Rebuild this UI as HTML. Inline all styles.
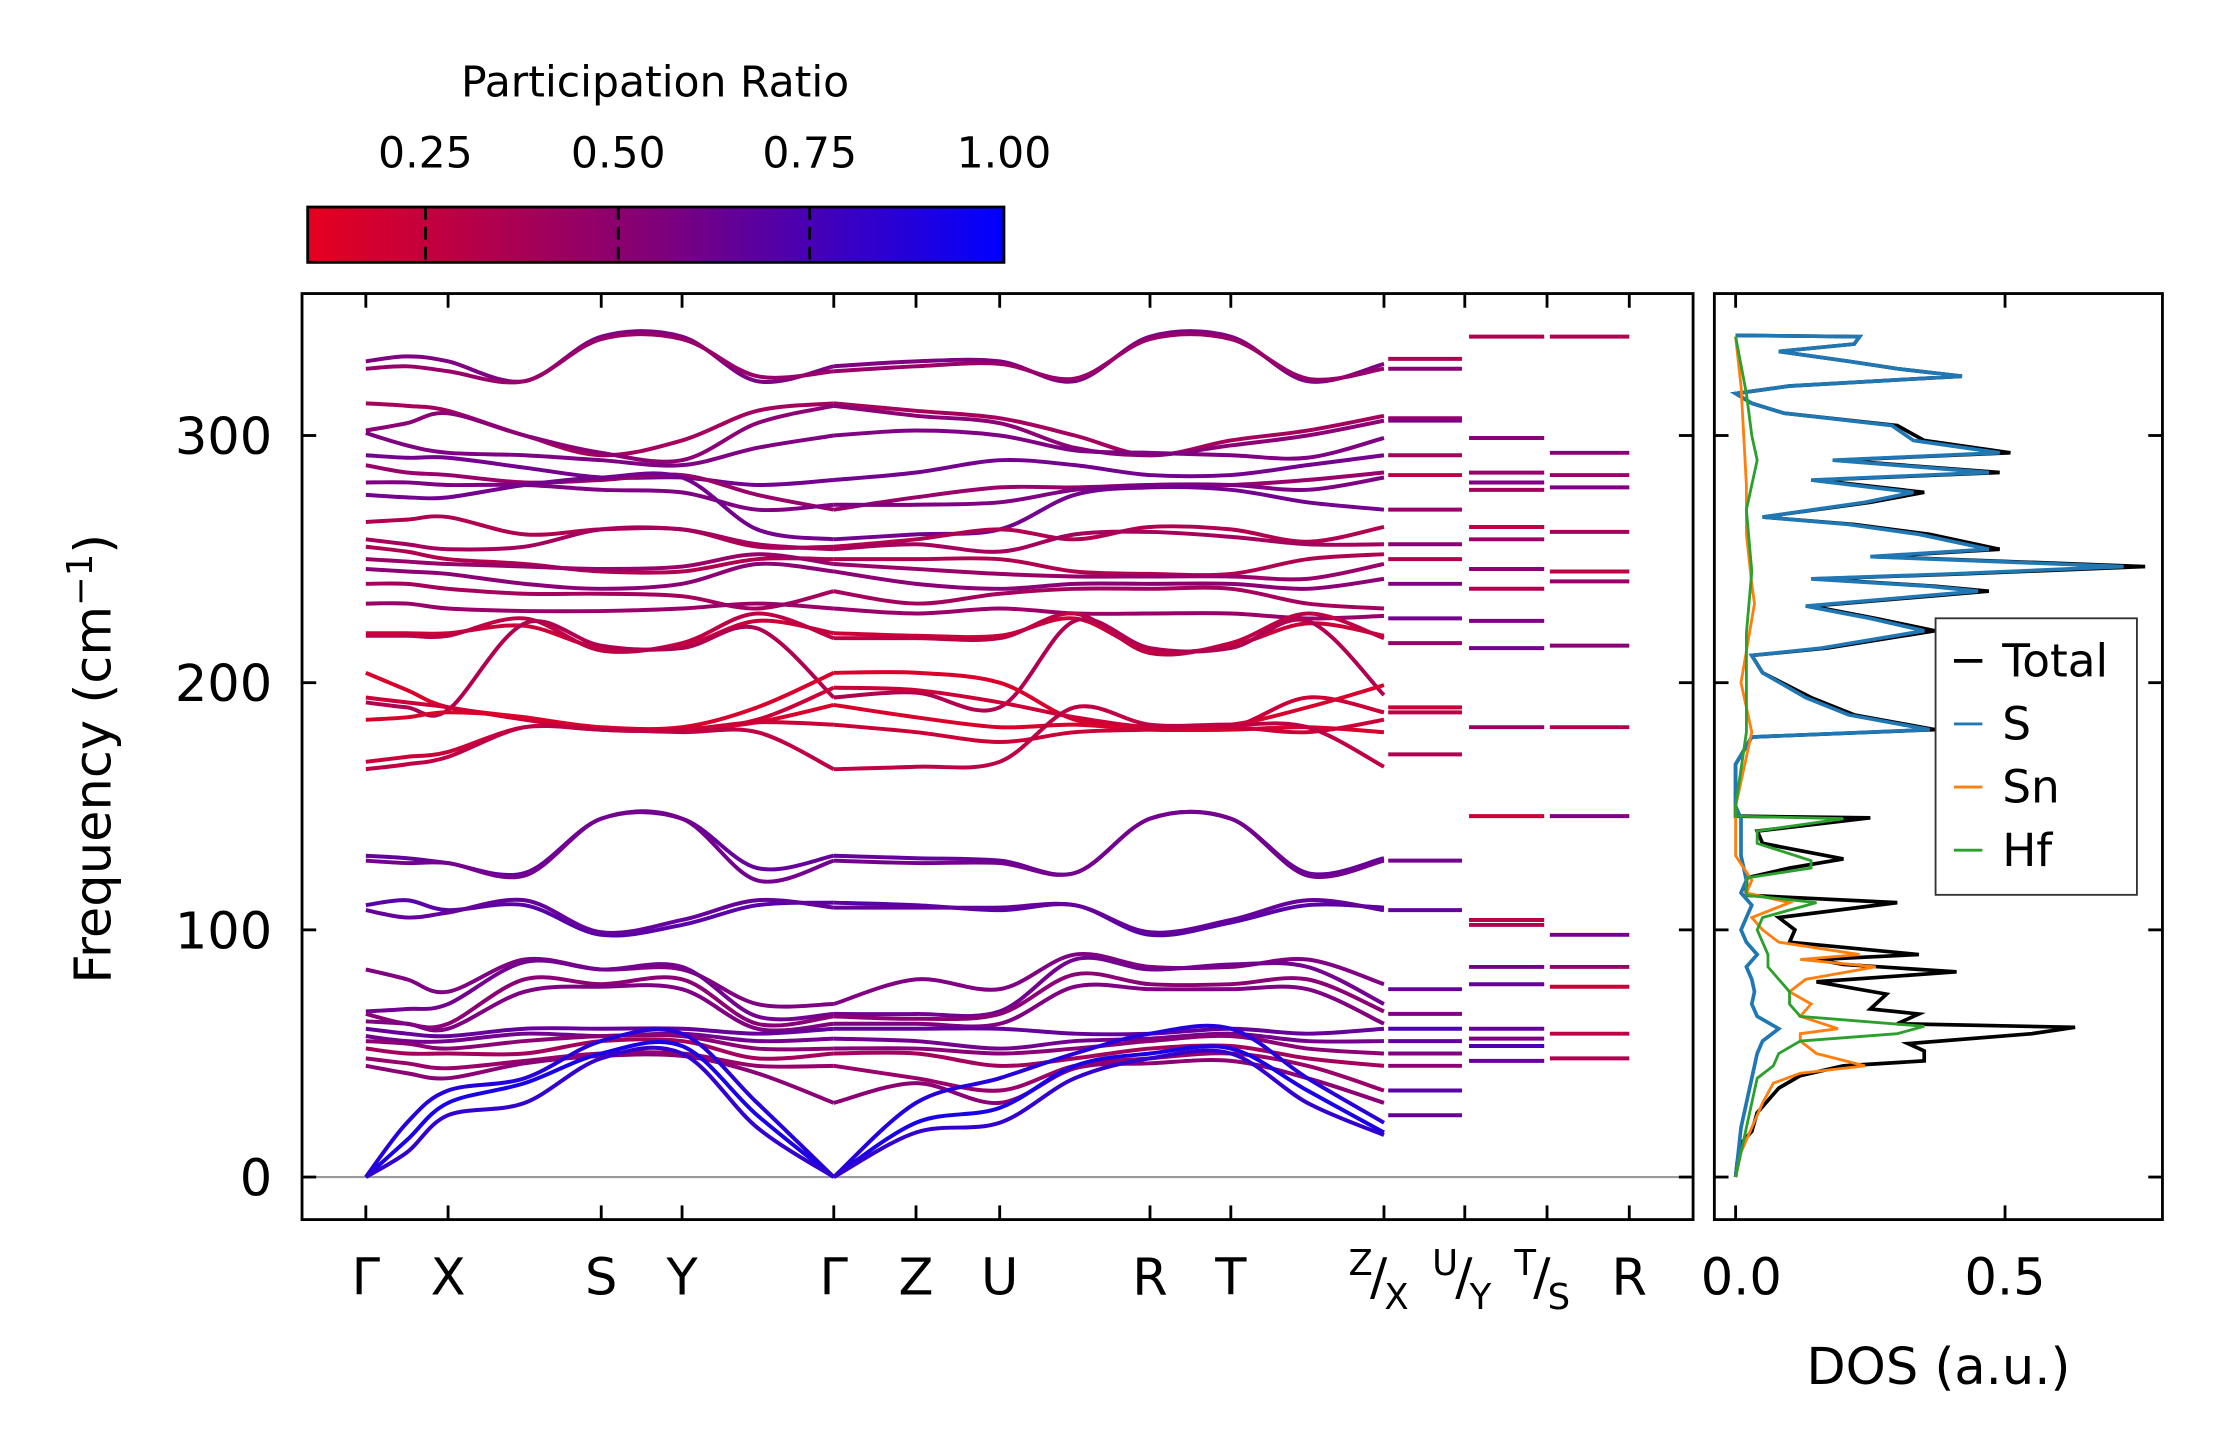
<!DOCTYPE html>
<html><head><meta charset="utf-8">
<style>
html,body{margin:0;padding:0;background:#fff;}
svg{display:block;font-family:"DejaVu Sans","Liberation Sans",sans-serif;}
</style></head>
<body>
<svg id="fig" width="2222" height="1455" viewBox="0 0 1567 1026" preserveAspectRatio="none" xmlns="http://www.w3.org/2000/svg">
<defs>
<linearGradient id="cbgrad" x1="0" x2="1" y1="0" y2="0">
<stop offset="0" stop-color="rgb(230,0,30)"/>
<stop offset="0.5" stop-color="rgb(128,0,120)"/>
<stop offset="1" stop-color="rgb(0,0,255)"/>
</linearGradient>
<clipPath id="clipMain"><rect x="213" y="207" width="981" height="653"/></clipPath>
<clipPath id="clipDos"><rect x="1209" y="207" width="316" height="653"/></clipPath>
</defs>
<g id="colorbar">
<text x="462" y="68" font-size="30" text-anchor="middle">Participation Ratio</text>
<text x="300" y="118" font-size="30" text-anchor="middle">0.25</text>
<text x="436" y="118" font-size="30" text-anchor="middle">0.50</text>
<text x="571" y="118" font-size="30" text-anchor="middle">0.75</text>
<text x="708" y="118" font-size="30" text-anchor="middle">1.00</text>
<rect x="217" y="146" width="491" height="39" fill="url(#cbgrad)" stroke="#000" stroke-width="2"/>
<g stroke="#000" stroke-width="2" stroke-dasharray="9,5">
<line x1="300" y1="146" x2="300" y2="185"/><line x1="436" y1="146" x2="436" y2="185"/><line x1="571" y1="146" x2="571" y2="185"/>
</g>
</g>
<g id="main"></g>
<g id="dos"></g>
</svg>
<script>
const kLabels = ["Γ","X","S","Y","Γ","Z","U","R","T"];
const kNodePix = [258,287,316,370,424,481,534,588,646,705,758,811,868,922,976];
const freqTicks = [0,100,200,300];
const bandFreqs = [
[330,332,330,322,340,340,322,328,330,330,322,340,340,322,329],
[327,328,326,322,339,339,324,326,328,329,323,339,339,323,327],
[313,312,310,300,292,298,310,313,310,307,300,292,298,302,308],
[302,305,309,300,293,290,305,312,308,305,295,292,296,300,306],
[301,296,293,292,290,288,295,300,302,300,294,293,292,291,299],
[292,291,291,287,283,283,280,282,285,290,288,284,284,288,292],
[288,285,284,281,282,284,276,270,275,279,279,280,280,282,285],
[281,281,280,280,278,277,270,272,272,273,278,280,280,278,283],
[276,275,275,280,283,283,262,258,260,262,276,279,278,273,270],
[265,266,267,260,262,262,255,255,258,262,258,263,262,257,263],
[258,256,254,255,262,262,256,254,256,253,260,261,259,256,256],
[255,253,250,248,245,245,250,250,250,250,245,244,244,250,252],
[250,249,248,247,246,247,252,248,246,244,243,243,243,242,248],
[246,245,244,240,238,240,248,245,240,238,240,240,240,238,242],
[240,240,238,236,236,235,230,237,232,236,238,238,238,232,230],
[232,232,230,229,229,230,232,230,228,230,228,228,228,226,227],
[220,220,220,223,214,215,225,220,219,219,226,213,215,224,219],
[219,219,219,226,213,216,228,218,218,218,228,212,216,228,218],
[192,190,189,224,215,214,222,194,196,190,225,214,214,225,195],
[204,197,190,186,182,182,190,204,204,200,185,182,183,190,199],
[194,192,190,185,181,181,185,198,197,192,186,182,182,194,188],
[185,186,188,186,181,181,184,191,186,182,183,181,181,182,180],
[168,170,172,182,181,181,184,183,180,176,180,181,182,180,185],
[165,167,170,182,181,180,180,165,166,168,190,183,183,182,166],
[130,129,127,123,145,145,125,130,129,128,123,145,145,123,129],
[128,127,127,122,145,145,120,128,127,127,123,145,145,122,128],
[110,112,108,110,98,102,110,111,110,108,110,98,103,110,109],
[108,105,107,112,99,104,112,109,109,109,110,99,104,112,108],
[84,80,75,88,84,84,70,70,80,76,90,85,85,88,78],
[67,68,70,87,84,85,65,66,66,67,88,84,86,85,70],
[66,62,62,80,78,80,62,65,64,66,82,78,78,80,67],
[63,62,60,75,77,76,60,62,62,62,77,76,76,76,62],
[60,58,57,60,60,60,58,60,60,60,58,58,60,58,60],
[57,55,55,58,57,58,55,56,55,52,55,56,58,55,55],
[55,54,52,55,57,57,52,52,52,50,52,55,57,52,50],
[52,50,50,50,55,55,48,50,50,45,48,52,53,48,45],
[48,46,44,47,50,50,45,45,40,35,45,48,50,45,35],
[45,42,40,46,49,49,42,30,38,30,44,46,47,40,30],
[0,22,35,40,55,58,30,0,30,40,50,58,60,40,22],
[0,15,30,38,50,53,25,0,22,28,45,50,52,35,18],
[0,10,25,30,48,50,20,0,18,22,40,48,50,30,17]
];
const bandPR = [0.5,0.4,0.35,0.45,0.5,0.55,0.4,0.5,0.55,0.3,0.35,0.3,0.4,0.45,0.35,0.4,
0.2,0.25,0.3,0.15,0.2,0.15,0.2,0.25,0.6,0.55,0.65,0.6,0.5,0.55,0.45,0.5,0.6,0.55,0.45,0.35,0.4,0.45,0.85,0.9,0.8];
const segXU = [331,327,307,306,292,284,270,256,250,240,226,216,190,188,171,128,108,76,66,60,55,50,45,35,25];
const segYT = [340,299,285,281,278,263,258,246,238,225,214,182,146,104,102,85,78,60,56,53,47];
const segSR = [340,293,284,279,261,245,241,215,182,146,98,85,77,58,48];
const segPR = [0.3,0.45,0.4,0.5,0.35,0.25,0.4,0.45,0.3,0.5,0.55,0.4,0.2,0.25,0.3,0.55,0.6,0.6,0.5,0.7,0.6,0.5,0.45,0.65,0.6];

const dosTicks = [0.0,0.5];
const totF = [0,6,13.6,18.5,26,31,36,41,45,47,51,54,58,60.6,62,66,68,74,79,83,86,88,90,95,100,105,111,114,121,125,128.7,135,140,145.3,146,150,167,178,181,187,194,204,211,214,221,226,231,237,239,242,244,247,251,254,260,264,267,273,277,282,285,290,293,298,304,309,313,317,320,324,327,330,334,337,340,340.5];
const totV = [0,0.003,0.01,0.03,0.04,0.06,0.08,0.12,0.2,0.35,0.35,0.32,0.55,0.63,0.3,0.34,0.25,0.28,0.15,0.41,0.2,0.15,0.34,0.1,0.11,0.08,0.3,0.02,0.02,0.1,0.2,0.05,0.04,0.25,0.0,0.0,0.0,0.03,0.37,0.22,0.14,0.05,0.03,0.17,0.37,0.26,0.14,0.47,0.37,0.15,0.42,0.76,0.26,0.49,0.36,0.22,0.05,0.25,0.35,0.15,0.49,0.19,0.51,0.35,0.3,0.09,0.03,0.0,0.1,0.42,0.3,0.21,0.08,0.22,0.23,0.0];
const sF = [0,10,20,30,40,50,55,60,65,70,75,80,85,90,95,100,105,110,115,120,130,145,150,167,178,181,187,194,204,211,214,221,226,231,237,239,242,244,247,251,254,260,264,267,273,277,282,285,290,293,298,304,309,313,317,320,324,327,330,334,337,340,340.5];
const sV = [0,0.005,0.01,0.02,0.03,0.04,0.05,0.08,0.04,0.03,0.035,0.03,0.02,0.04,0.02,0.01,0.02,0.03,0.01,0.02,0.01,0.01,0.0,0.0,0.03,0.36,0.21,0.13,0.05,0.03,0.16,0.35,0.25,0.13,0.45,0.36,0.14,0.4,0.72,0.25,0.47,0.34,0.21,0.05,0.24,0.33,0.14,0.47,0.18,0.49,0.33,0.29,0.09,0.03,0.0,0.1,0.42,0.3,0.21,0.08,0.22,0.23,0.0];
const snF = [0,10,20,30,38,42,45,50,55,58,60,65,70,75,80,85,88,90,95,100,105,111,115,120,130,145,150,180,200,232,240,260,280,300,320,340];
const snV = [0,0.01,0.03,0.05,0.07,0.12,0.24,0.15,0.12,0.12,0.19,0.12,0.14,0.1,0.13,0.26,0.12,0.23,0.08,0.05,0.03,0.1,0.02,0.03,0.0,0.0,0.0,0.03,0.01,0.035,0.03,0.02,0.02,0.015,0.01,0.0];
const hfF = [0,10,20,30,40,45,50,55,58,61,65,70,75,80,85,90,95,100,105,111,114,121,125,128,135,140,145,146,150,180,200,220,245,270,290,300,317,340];
const hfV = [0,0.01,0.02,0.03,0.04,0.07,0.08,0.12,0.3,0.35,0.12,0.1,0.1,0.08,0.06,0.06,0.05,0.04,0.05,0.15,0.02,0.02,0.14,0.14,0.04,0.04,0.2,0.0,0.0,0.02,0.02,0.02,0.03,0.02,0.04,0.03,0.02,0.0];
const dosSeries = ["Total","S","Sn","Hf"];
const dosColors = ["#000000","#1f77b4","#ff7f0e","#2ca02c"];

const NS = "http://www.w3.org/2000/svg";
function mk(tag, attrs, parent){const e=document.createElementNS(NS,tag);for(const k in attrs)e.setAttribute(k,attrs[k]);parent.appendChild(e);return e;}
const yF = f => 830 - 1.743*f;
const xD = d => 1224 + 380*d;
function prColor(p){const t=Math.max(0,Math.min(1,(p-0.097)/(1-0.097)));const r=Math.round(230*(1-t)),b=Math.round(30+225*t);return `rgb(${r},0,${b})`;}
function smoothPath(xs, ys){
  let d=`M${xs[0]},${ys[0]}`;
  for(let i=0;i<xs.length-1;i++){
    const x0=xs[Math.max(0,i-1)],y0=ys[Math.max(0,i-1)],x1=xs[i],y1=ys[i],x2=xs[i+1],y2=ys[i+1],x3=xs[Math.min(xs.length-1,i+2)],y3=ys[Math.min(xs.length-1,i+2)];
    const c1x=x1+(x2-x0)/6,c1y=y1+(y2-y0)/6,c2x=x2-(x3-x1)/6,c2y=y2-(y3-y1)/6;
    d+=` C${c1x.toFixed(1)},${c1y.toFixed(1)} ${c2x.toFixed(1)},${c2y.toFixed(1)} ${x2},${y2.toFixed(1)}`;
  }
  return d;
}
const main=document.getElementById('main');
const zl=mk('line',{x1:213,x2:1194,y1:yF(0),y2:yF(0),stroke:'#999',"stroke-width":1.5},main);


const bandsG=mk('g',{"clip-path":"url(#clipMain)"},main);


bandFreqs.forEach((fs,bi)=>{
  const col=prColor(bandPR[bi]);
  [[0,8],[7,15]].forEach(([a,b])=>{
    const xs=kNodePix.slice(a,b), ys=fs.slice(a,b).map(yF);
    const p=mk('path',{d:smoothPath(xs,ys),fill:'none',stroke:col,"stroke-width":2.8},bandsG);
    
    
  });
});
[[segXU,979,1031],[segYT,1036,1089],[segSR,1093,1149]].forEach(([seg,x1,x2])=>{
  seg.forEach((f,i)=>{
    const l=mk('line',{x1:x1,x2:x2,y1:yF(f),y2:yF(f),stroke:prColor(segPR[i%segPR.length]),"stroke-width":2.8},bandsG);
    
    
  });
});
const fr=mk('rect',{x:213,y:207,width:981,height:653,fill:'none',stroke:'#000',"stroke-width":2},main);


const tickX=[258,316,424,481,588,646,705,811,868,976,1033,1091,1149];
tickX.forEach(x=>{mk('line',{x1:x,x2:x,y1:860,y2:850,stroke:'#000',"stroke-width":2},main);mk('line',{x1:x,x2:x,y1:207,y2:217,stroke:'#000',"stroke-width":2},main);});
freqTicks.forEach(f=>{
  mk('line',{x1:213,x2:223,y1:yF(f),y2:yF(f),stroke:'#000',"stroke-width":2},main);
  mk('line',{x1:1184,x2:1194,y1:yF(f),y2:yF(f),stroke:'#000',"stroke-width":2},main);
  const t=mk('text',{x:192,y:yF(f)+13,"font-size":36,"text-anchor":"end"},main);t.textContent=f;
  
  
});
const kLabelX=[258,316,424,481,588,646,705,811,868];
kLabels.forEach((s,i)=>{const t=mk('text',{x:kLabelX[i],y:913,"font-size":36,"text-anchor":"middle"},main);t.textContent=s;
  
  });
const comp=[["Z","X",951],["U","Y",1010],["T","S",1068]];
comp.forEach(([a,b,x])=>{
  const t=mk('text',{x:x,y:913,"font-size":36,"letter-spacing":"-2"},main);
  
  
  const s1=mk('tspan',{"font-size":25,dy:-14},t);s1.textContent=a;
  const s2=mk('tspan',{dy:14},t);s2.textContent="/";
  const s3=mk('tspan',{"font-size":25,dy:10},t);s3.textContent=b;
});
const rl=mk('text',{x:1149,y:913,"font-size":36,"text-anchor":"middle"},main);rl.textContent="R";


const yl=mk('text',{x:0,y:0,"font-size":36,"text-anchor":"middle",transform:"translate(78,535) rotate(-90)"},main);


yl.textContent="Frequency (cm";const sup=mk('tspan',{"font-size":25,dy:-13},yl);sup.textContent="−1";const cl=mk('tspan',{dy:13},yl);cl.textContent=")";

const dos=document.getElementById('dos');
const dg=mk('g',{"clip-path":"url(#clipDos)"},dos);
[[totF,totV],[sF,sV],[snF,snV],[hfF,hfV]].forEach(([F,V],si)=>{
  const pts=F.map((f,i)=>`${xD(V[i]).toFixed(1)},${yF(f).toFixed(1)}`).join(' ');
  const pl=mk('polyline',{points:pts,fill:'none',stroke:dosColors[si],"stroke-width":si<2?2.6:2},dg);
  
  
});
const df=mk('rect',{x:1209,y:207,width:316,height:653,fill:'none',stroke:'#000',"stroke-width":2},dos);


dosTicks.forEach(d=>{
  mk('line',{x1:xD(d),x2:xD(d),y1:860,y2:850,stroke:'#000',"stroke-width":2},dos);
  mk('line',{x1:xD(d),x2:xD(d),y1:207,y2:217,stroke:'#000',"stroke-width":2},dos);
  const t=mk('text',{x:xD(d)+(d===0?4:0),y:913,"font-size":36,"text-anchor":"middle"},dos);t.textContent=d.toFixed(1);
  
  
});
freqTicks.forEach(f=>{
  mk('line',{x1:1209,x2:1219,y1:yF(f),y2:yF(f),stroke:'#000',"stroke-width":2},dos);
  mk('line',{x1:1515,x2:1525,y1:yF(f),y2:yF(f),stroke:'#000',"stroke-width":2},dos);
});
const dl=mk('text',{x:1367,y:976,"font-size":36,"text-anchor":"middle"},dos);dl.textContent="DOS (a.u.)";


const lg=mk('g',{},dos);


mk('rect',{x:1365,y:436,width:142,height:195,fill:'#fff',stroke:'#333',"stroke-width":1.3},lg);
dosSeries.forEach((s,i)=>{
  const y=466+44.5*i;
  mk('line',{x1:1378,x2:1398,y1:y,y2:y,stroke:dosColors[i],"stroke-width":i==0?2.6:2},lg);
  const t=mk('text',{x:1412,y:y+11,"font-size":32},lg);t.textContent=s;
  
  
});
</script>
</body></html>
